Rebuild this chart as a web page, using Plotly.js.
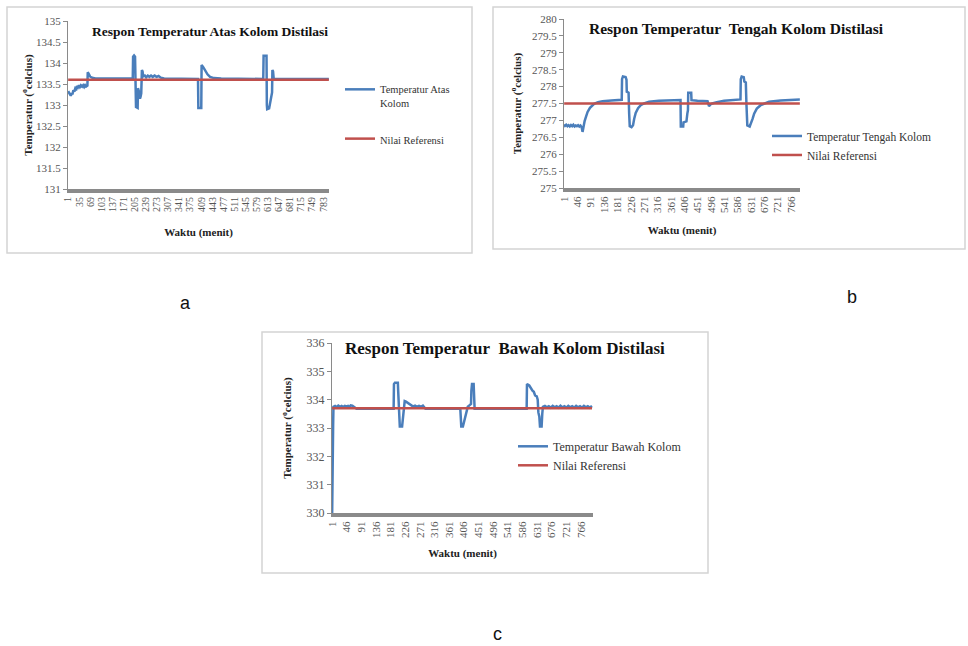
<!DOCTYPE html>
<html><head><meta charset="utf-8">
<script src="https://cdn.plot.ly/plotly-3.0.1.min.js"></script>
<style>html,body{margin:0;padding:0;background:#fff}#chart{width:968px;height:646px}</style>
</head><body><div id="chart"></div><script>
// ---- Data ----
// (a) Respon Temperatur Atas Kolom Distilasi
const xAtas = [1,5,9,12,14,17,20,23,26,28,31,34,37,40,44,47,50,53,56,60,61,64,68,74,85,150,199,200,203,206,207,209,214,215,217,219,221,223,225,227,229,231,236,240,245,250,255,260,266,272,278,285,295,399,400,409,410,415,420,428,436,448,470,599,600,609,610,611,617,620,623,626,627,629,631,800];
const yAtas = [133.33,133.28,133.22,133.28,133.25,133.35,133.32,133.40,133.38,133.45,133.42,133.47,133.43,133.47,133.44,133.47,133.43,133.47,133.44,133.46,133.78,133.74,133.68,133.65,133.63,133.63,133.63,134.15,134.18,134.15,133.4,132.95,132.93,133.4,133.35,133.3,133.15,133.2,133.28,133.83,133.8,133.68,133.7,133.66,133.7,133.67,133.7,133.67,133.7,133.67,133.69,133.65,133.63,133.62,132.93,132.93,133.95,133.9,133.83,133.73,133.67,133.64,133.63,133.62,134.17,134.17,133.0,132.9,132.92,133.05,133.2,133.3,133.83,133.8,133.62,133.62];
const xRefAtas = [1,800];
const yRefAtas = [133.6,133.6];
const ticksAtas = [1,35,69,103,137,171,205,239,273,307,341,375,409,443,477,511,545,579,613,647,681,715,749,783];
const yTicksAtas = [131,131.5,132,132.5,133,133.5,134,134.5,135];

// (b) Respon Temperatur Tengah Kolom Distilasi
const xTengah = [1,4,8,12,16,20,24,28,32,36,40,44,48,52,56,60,63,65,70,75,80,88,96,102,115,130,160,195,196,199,208,211,212,218,220,222,228,233,237,242,250,259,270,287,320,393,394,402,403,413,416,418,419,429,430,450,484,486,489,494,500,515,540,595,596,599,606,608,613,615,618,626,630,636,641,650,663,675,691,730,795];
const yTengah = [276.88,276.84,276.87,276.83,276.86,276.82,276.86,276.83,276.87,276.82,276.85,276.83,276.86,276.82,276.85,276.8,276.66,276.8,276.98,277.12,277.25,277.37,277.45,277.49,277.54,277.57,277.59,277.61,278.22,278.3,278.28,278.2,277.85,277.82,277.2,276.83,276.8,276.86,277.05,277.22,277.36,277.45,277.5,277.55,277.58,277.6,276.82,276.82,276.94,276.97,277.2,277.3,277.82,277.82,277.6,277.58,277.57,277.5,277.42,277.47,277.5,277.54,277.58,277.62,278.22,278.3,278.28,278.15,278.12,277.5,276.85,276.82,276.9,277.05,277.2,277.35,277.45,277.5,277.55,277.59,277.62];
const xRefTengah = [1,795];
const yRefTengah = [277.5,277.5];
const ticksTengah = [1,46,91,136,181,226,271,316,361,406,451,496,541,586,631,676,721,766];
const yTicksTengah = [275,275.5,276,276.5,277,277.5,278,278.5,279,279.5,280];

// (c) Respon Temperatur Bawah Kolom Distilasi
const xBawah = [1,2,4,5,10,15,20,25,30,35,40,45,50,55,58,63,67,72,76,190,191,194,203,204,206,209,216,219,224,228,234,240,245,250,256,262,268,274,280,284,288,395,396,398,403,408,413,418,423,428,429,431,436,437,439,599,600,607,612,617,621,625,630,633,635,638,640,645,647,649,655,661,667,673,679,685,691,697,703,709,715,721,727,733,739,745,751,757,763,769,775,781,787,793,800];
const yBawah = [330,333.1,333.1,333.75,333.78,333.74,333.79,333.75,333.78,333.74,333.78,333.76,333.78,333.74,333.8,333.79,333.75,333.72,333.68,333.68,334.55,334.6,334.6,334.3,333.5,333.05,333.05,333.5,333.95,333.93,333.88,333.82,333.78,333.76,333.79,333.75,333.78,333.75,333.79,333.72,333.68,333.68,333.3,333.05,333.05,333.3,333.6,333.75,333.8,333.85,334.3,334.55,334.55,334.0,333.68,333.68,334.55,334.5,334.4,334.32,334.28,334.15,334.12,334.0,333.55,333.4,333.05,333.05,333.5,333.75,333.78,333.73,333.77,333.72,333.78,333.73,333.77,333.72,333.79,333.73,333.77,333.72,333.78,333.73,333.77,333.72,333.78,333.73,333.77,333.72,333.78,333.73,333.77,333.72,333.78];
const xRefBawah = [1,800];
const yRefBawah = [333.7,333.7];
const ticksBawah = [1,46,91,136,181,226,271,316,361,406,451,496,541,586,631,676,721,766];
const yTicksBawah = [330,331,332,333,334,335,336];

// ---- Layout helpers ----
const W = 968, H = 646;
const px = v => v / W;
const py = v => 1 - v / H;
const serif = 'Liberation Serif, Times New Roman, serif';
const BLUE = '#4a7ebb', RED = '#c0504d';

function xAx(d0, d1, range, ticks, anchor, fs, standoff) {
  return {domain:[px(d0), px(d1)], range, anchor, tickmode:'array', tickvals:ticks, ticktext:ticks.map(String),
    tickangle:-90, tickfont:{family:serif, size:fs, color:'#555'}, showline:true, linecolor:'#8a8a8a', linewidth:4,
    ticks:'', showgrid:false, zeroline:false, fixedrange:true,
    title:{text:'<b>Waktu (menit)</b>', font:{family:serif, size:11, color:'#222'}, standoff}};
}
function yAx(top, bot, range, ticks, anchor, fs, standoff) {
  return {domain:[py(bot), py(top)], range, anchor, tickmode:'array', tickvals:ticks, ticktext:ticks.map(String),
    tickfont:{family:serif, size:fs, color:'#555'}, showline:true, linecolor:'#8a8a8a', linewidth:1,
    ticks:'outside', ticklen:4, tickcolor:'#8a8a8a', showgrid:false, zeroline:false, fixedrange:true,
    title:{text:'<b>Temperatur (<sup>o</sup>celcius)</b>', font:{family:serif, size:11, color:'#222'}, standoff}};
}

const traces = [
  {x:xAtas, y:yAtas, xaxis:'x', yaxis:'y', type:'scatter', mode:'lines', name:'Temperatur Atas<br>Kolom', line:{color:BLUE, width:2.5}, legend:'legend', legendgroup:'a1'},
  {x:xRefAtas, y:yRefAtas, xaxis:'x', yaxis:'y', type:'scatter', mode:'lines', name:'Nilai Referensi', line:{color:RED, width:2.5}, legend:'legend', legendgroup:'a2'},
  {x:xTengah, y:yTengah, xaxis:'x2', yaxis:'y2', type:'scatter', mode:'lines', name:'Temperatur Tengah Kolom', line:{color:BLUE, width:2.5}, legend:'legend2', legendgroup:'b1'},
  {x:xRefTengah, y:yRefTengah, xaxis:'x2', yaxis:'y2', type:'scatter', mode:'lines', name:'Nilai Referensi', line:{color:RED, width:2.5}, legend:'legend2', legendgroup:'b2'},
  {x:xBawah, y:yBawah, xaxis:'x3', yaxis:'y3', type:'scatter', mode:'lines', name:'Temperatur Bawah Kolom', line:{color:BLUE, width:2.5}, legend:'legend3', legendgroup:'c1'},
  {x:xRefBawah, y:yRefBawah, xaxis:'x3', yaxis:'y3', type:'scatter', mode:'lines', name:'Nilai Referensi', line:{color:RED, width:2.5}, legend:'legend3', legendgroup:'c2'}
];

function leg(x, y, fs, gap) {
  return {x:px(x), y:py(y), xanchor:'left', yanchor:'top', bgcolor:'rgba(0,0,0,0)', borderwidth:0,
    font:{family:serif, size:fs, color:'#333'}, traceorder:'grouped', tracegroupgap:gap, valign:'top', itemwidth:30};
}

const box = (x0, y0, x1, y1) => ({type:'rect', xref:'paper', yref:'paper', x0:px(x0), x1:px(x1), y0:py(y1), y1:py(y0), line:{color:'#d4d4d4', width:1.5}, fillcolor:'rgba(0,0,0,0)', layer:'below'});
const title = (t, x, y, fs) => ({text:'<b>'+t+'</b>', xref:'paper', yref:'paper', x:px(x), y:py(y), xanchor:'center', yanchor:'middle', showarrow:false, font:{family:serif, size:fs, color:'#111'}});
const letter = (t, x, y) => ({text:t, xref:'paper', yref:'paper', x:px(x), y:py(y), xanchor:'center', yanchor:'middle', showarrow:false, font:{family:'Liberation Sans, Arial, sans-serif', size:18, color:'#111'}});

const layout = {
  width:W, height:H, margin:{l:0, r:0, t:0, b:0}, paper_bgcolor:'#fff', plot_bgcolor:'#fff', showlegend:true,
  xaxis: xAx(68, 329, [0.5, 800.5], ticksAtas, 'y', 10, 18),
  yaxis: yAx(21, 189, [131, 135], yTicksAtas, 'x', 11, 1),
  xaxis2: xAx(564, 800, [0.5, 795.5], ticksTengah, 'y2', 11, 15),
  yaxis2: yAx(19, 188, [275, 280], yTicksTengah, 'x2', 11, 8),
  xaxis3: xAx(332, 593, [0.5, 803], ticksBawah, 'y3', 11, 13),
  yaxis3: yAx(343, 513, [330, 336], yTicksBawah, 'x3', 12, 12),
  legend: leg(340, 76, 10.5, 19),
  legend2: leg(767, 122, 11.5, 0),
  legend3: leg(513, 432, 12, 0),
  shapes: [box(7, 7, 472, 253), box(493, 7, 965, 249), box(262, 332, 708, 573)],
  annotations: [
    title('Respon Temperatur Atas Kolom Distilasi', 210, 31, 13.5),
    title('Respon Temperatur&nbsp; Tengah Kolom Distilasi', 736, 28, 15.5),
    title('Respon Temperatur&nbsp; Bawah Kolom Distilasi', 505, 348, 17),
    letter('a', 185, 303), letter('b', 852, 297), letter('c', 497, 634)
  ]
};

Plotly.newPlot('chart', traces, layout, {staticPlot:true, displayModeBar:false});
</script></body></html>
